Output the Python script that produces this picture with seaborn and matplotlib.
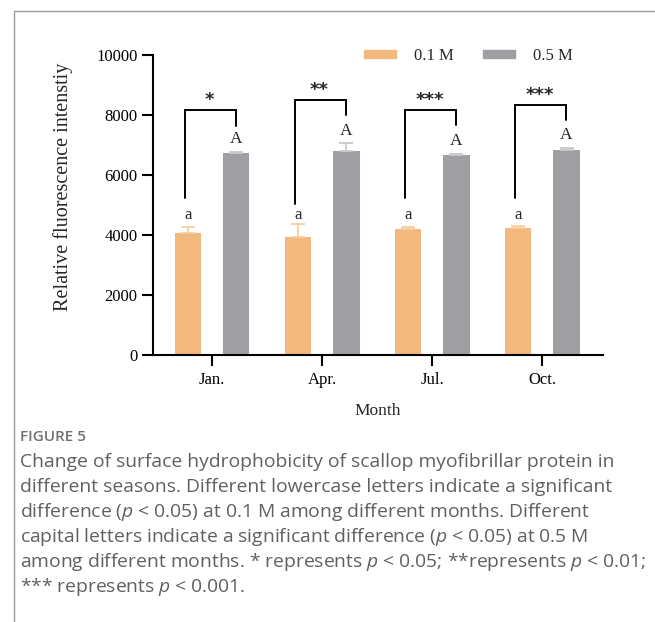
import matplotlib
matplotlib.use("Agg")
import matplotlib.pyplot as plt
from matplotlib.lines import Line2D
import seaborn as sns
import pandas as pd
import numpy as np

months = ["Jan.", "Apr.", "Jul.", "Oct."]
conc = ["0.1 M", "0.5 M"]
vals_01 = [4077, 3933, 4190, 4233]
err_01 = [180, 420, 80, 70]
vals_05 = [6743, 6800, 6667, 6833]
err_05 = [30, 250, 30, 75]
stars = ["*", "**", "***", "***"]
bracket_top = [8167, 8510, 8167, 8343]
bracket_left_bottom = [5243, 5023, 5243, 5243]
bracket_right_bottom = [7633, 8000, 7667, 7833]
lower_letters = ["a", "a", "a", "a"]
upper_letters = ["A", "A", "A", "A"]

df = pd.DataFrame({
    "Month": months * 2,
    "Conc": [conc[0]] * 4 + [conc[1]] * 4,
    "Value": vals_01 + vals_05,
})

sns.set_style("white")
plt.rcParams["font.family"] = ["Liberation Serif"]
plt.rcParams["mathtext.fontset"] = "custom"
plt.rcParams["mathtext.rm"] = "Open Sans"
plt.rcParams["mathtext.it"] = "Open Sans:italic"

fig = plt.figure(figsize=(6.55, 6.22), dpi=100)
ax = fig.add_axes([152.9 / 655, 267 / 622, 450 / 655, 300 / 622])

c_or = "#F2B87E"
c_gr = "#9F9EA3"
sns.barplot(data=df, x="Month", y="Value", hue="Conc", order=months,
            hue_order=conc, palette=[c_or, c_gr], width=0.88, gap=0.4545,
            errorbar=None, ax=ax, saturation=1, legend=False)

for p in ax.patches:
    p.set_linewidth(0.0)

x = np.arange(len(months))
off = 0.22
ax.errorbar(x - off, vals_01, yerr=[np.zeros(4), err_01], fmt="none",
            ecolor="#F7CFA3", elinewidth=1.3, capsize=4.8, capthick=1.3, zorder=1)
ax.errorbar(x + off, vals_05, yerr=[np.zeros(4), err_05], fmt="none",
            ecolor="#C9C8CC", elinewidth=1.3, capsize=4.8, capthick=1.3, zorder=1)

for i in range(4):
    xl = i - off - 0.025
    xr = i + off - 0.005
    ax.plot([xl, xl, xr, xr],
            [bracket_left_bottom[i], bracket_top[i], bracket_top[i], bracket_right_bottom[i]],
            color="black", lw=1.4, solid_joinstyle="miter", clip_on=False)
    ax.text((xl + xr) / 2 - 0.01, bracket_top[i] + 330, stars[i], ha="center",
            va="center", fontsize=13, fontweight="bold", family="DejaVu Sans")
    ax.text(i - off, 4667, lower_letters[i], ha="center", va="center", fontsize=12)
    ax.text(i + off, vals_05[i] + err_05[i] + 420, upper_letters[i], ha="center",
            va="center", fontsize=12.5)

ax.set_ylim(0, 10000)
ax.set_xlim(-0.537, 3.55)
ax.set_yticks([0, 2000, 4000, 6000, 8000, 10000])
ax.set_yticklabels(["0", "2000", "4000", "6000", "8000", "10000"], fontsize=12)
ax.set_xticks(x)
ax.set_xticklabels(months, fontsize=12)
ax.tick_params(axis="both", which="major", length=8, width=1.5, direction="out",
               bottom=True, left=True, colors="black", pad=3)
ax.tick_params(axis="x", length=8, pad=4)
for s in ["top", "right"]:
    ax.spines[s].set_visible(False)
for s in ["left", "bottom"]:
    ax.spines[s].set_linewidth(1.5)
    ax.spines[s].set_color("black")
ax.set_xlabel("Month", fontsize=12.5, labelpad=11)
ax.set_ylabel("Relative fluorescence intenstiy", fontsize=14.5)
ax.yaxis.set_label_coords((73 - 152.9) / 450, 0.56)

handles = [plt.Rectangle((0, 0), 1, 1, color=c_or), plt.Rectangle((0, 0), 1, 1, color=c_gr)]
leg = ax.legend(handles, conc, loc="center left", bbox_to_anchor=(0.469, 0.9967),
                ncol=2, frameon=False, fontsize=12, handlelength=1.92,
                handleheight=0.42, columnspacing=1.74, handletextpad=1.08,
                borderpad=0, borderaxespad=0)

fig.add_artist(Line2D([14 / 655, 1], [1 - 11 / 622, 1 - 11 / 622], color="#9a9a9a", lw=1.0))
fig.add_artist(Line2D([14 / 655, 14 / 655], [0, 1 - 11 / 622], color="#9a9a9a", lw=1.0))

cap_col = "#606060"
fig.text(20 / 655, 1 - 437 / 622, "FIGURE 5", fontsize=11, color="#707070",
         family="Open Sans", fontweight="semibold", va="center")
lines = [
    "Change of surface hydrophobicity of scallop myofibrillar protein in",
    "different seasons. Different lowercase letters indicate a significant",
    "difference ($p$ < 0.05) at 0.1 M among different months. Different",
    "capital letters indicate a significant difference ($p$ < 0.05) at 0.5 M",
    "among different months. * represents $p$ < 0.05; **represents $p$ < 0.01;",
    "*** represents $p$ < 0.001.",
]
for k, t in enumerate(lines):
    fig.text(20 / 655, 1 - (462 + 25 * k) / 622, t, fontsize=13.9, color=cap_col,
             family="Open Sans", va="center")

fig.savefig("out.png", dpi=100)
